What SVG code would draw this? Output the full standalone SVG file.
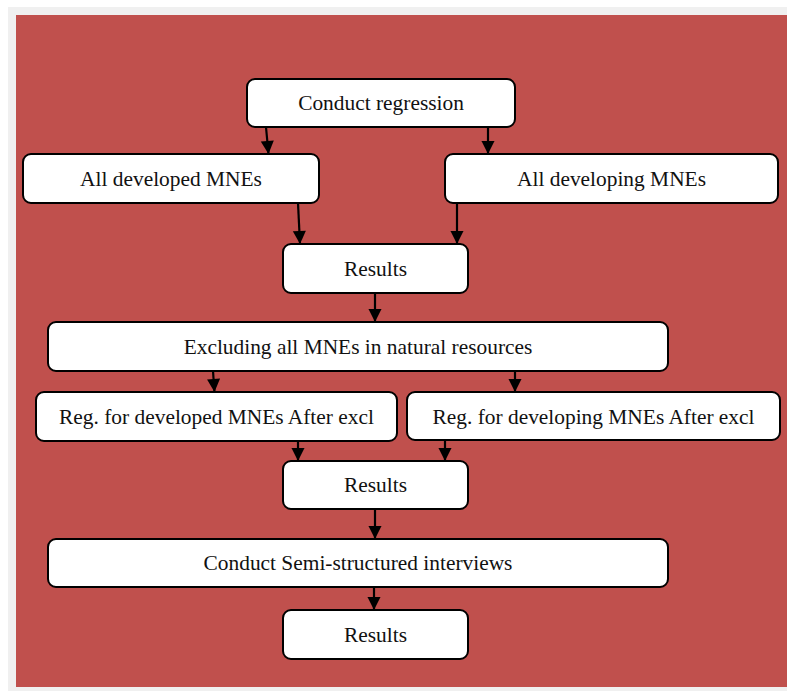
<svg xmlns="http://www.w3.org/2000/svg" width="787" height="692" viewBox="0 0 787 692">
  <style>
    .box rect { fill: #ffffff; stroke: #000000; stroke-width: 2; }
    .box text { fill: #111111; text-anchor: middle; }
    .conn line { stroke: #000000; stroke-width: 2.2; fill: none; marker-end: url(#arrow); }
  </style>
  <defs>
    <marker id="arrow" viewBox="0 0 14 15" refX="14" refY="7" markerWidth="15" markerHeight="14" markerUnits="userSpaceOnUse" orient="auto">
      <path d="M0,0 L14,7 L0,14 Z" fill="#000000"/>
    </marker>
  </defs>

  <!-- page frame -->
  <rect x="0" y="0" width="787" height="692" fill="#ffffff"/>
  <rect x="8" y="7" width="779" height="684" fill="#f0f0f0"/>
  <rect x="16" y="15" width="771" height="672" fill="#c0504d"/>

  <!-- connectors -->
  <g id="connectors" class="conn">
    <line x1="266" y1="127" x2="268.5" y2="154"/>
    <line x1="488" y1="127" x2="488" y2="154"/>
    <line x1="298" y1="203" x2="300" y2="244"/>
    <line x1="457" y1="203" x2="457" y2="244"/>
    <line x1="375" y1="293" x2="375" y2="322"/>
    <line x1="213" y1="371" x2="214.5" y2="392"/>
    <line x1="515" y1="371" x2="515" y2="392"/>
    <line x1="298" y1="441" x2="298" y2="461"/>
    <line x1="445" y1="440" x2="445" y2="461"/>
    <line x1="375" y1="509" x2="375" y2="539"/>
    <line x1="374" y1="587" x2="374" y2="610"/>
  </g>

  <!-- nodes -->
  <g id="nodes">
    <g id="conduct-regression" class="box">
      <rect x="247" y="79" width="268" height="48" rx="8"/>
      <text x="381" y="110" font-family="Liberation Serif" font-size="21.4">Conduct regression</text>
    </g>
    <g id="all-developed" class="box">
      <rect x="23" y="154" width="296" height="49" rx="8"/>
      <text x="171" y="186" font-family="Liberation Serif" font-size="21.4">All developed MNEs</text>
    </g>
    <g id="all-developing" class="box">
      <rect x="445" y="154" width="333" height="49" rx="8"/>
      <text x="611.5" y="186" font-family="Liberation Serif" font-size="21.4">All developing MNEs</text>
    </g>
    <g id="results-1" class="box">
      <rect x="283" y="244" width="185" height="49" rx="8"/>
      <text x="375.5" y="276" font-family="Liberation Serif" font-size="21.4">Results</text>
    </g>
    <g id="excluding" class="box">
      <rect x="48" y="322" width="620" height="49" rx="8"/>
      <text x="358" y="354" font-family="Liberation Serif" font-size="21.4">Excluding all MNEs in natural resources</text>
    </g>
    <g id="reg-developed" class="box">
      <rect x="36" y="392" width="361" height="49" rx="8"/>
      <text x="216.5" y="424" font-family="Liberation Serif" font-size="21.4">Reg. for developed MNEs After excl</text>
    </g>
    <g id="reg-developing" class="box">
      <rect x="407" y="392" width="373" height="48" rx="8"/>
      <text x="593.5" y="424" font-family="Liberation Serif" font-size="21.4">Reg. for developing MNEs After excl</text>
    </g>
    <g id="results-2" class="box">
      <rect x="283" y="461" width="185" height="48" rx="8"/>
      <text x="375.5" y="492" font-family="Liberation Serif" font-size="21.4">Results</text>
    </g>
    <g id="interviews" class="box">
      <rect x="48" y="539" width="620" height="48" rx="8"/>
      <text x="358" y="570" font-family="Liberation Serif" font-size="21.4">Conduct Semi-structured interviews</text>
    </g>
    <g id="results-3" class="box">
      <rect x="283" y="610" width="185" height="49" rx="8"/>
      <text x="375.5" y="642" font-family="Liberation Serif" font-size="21.4">Results</text>
    </g>
  </g>
</svg>
